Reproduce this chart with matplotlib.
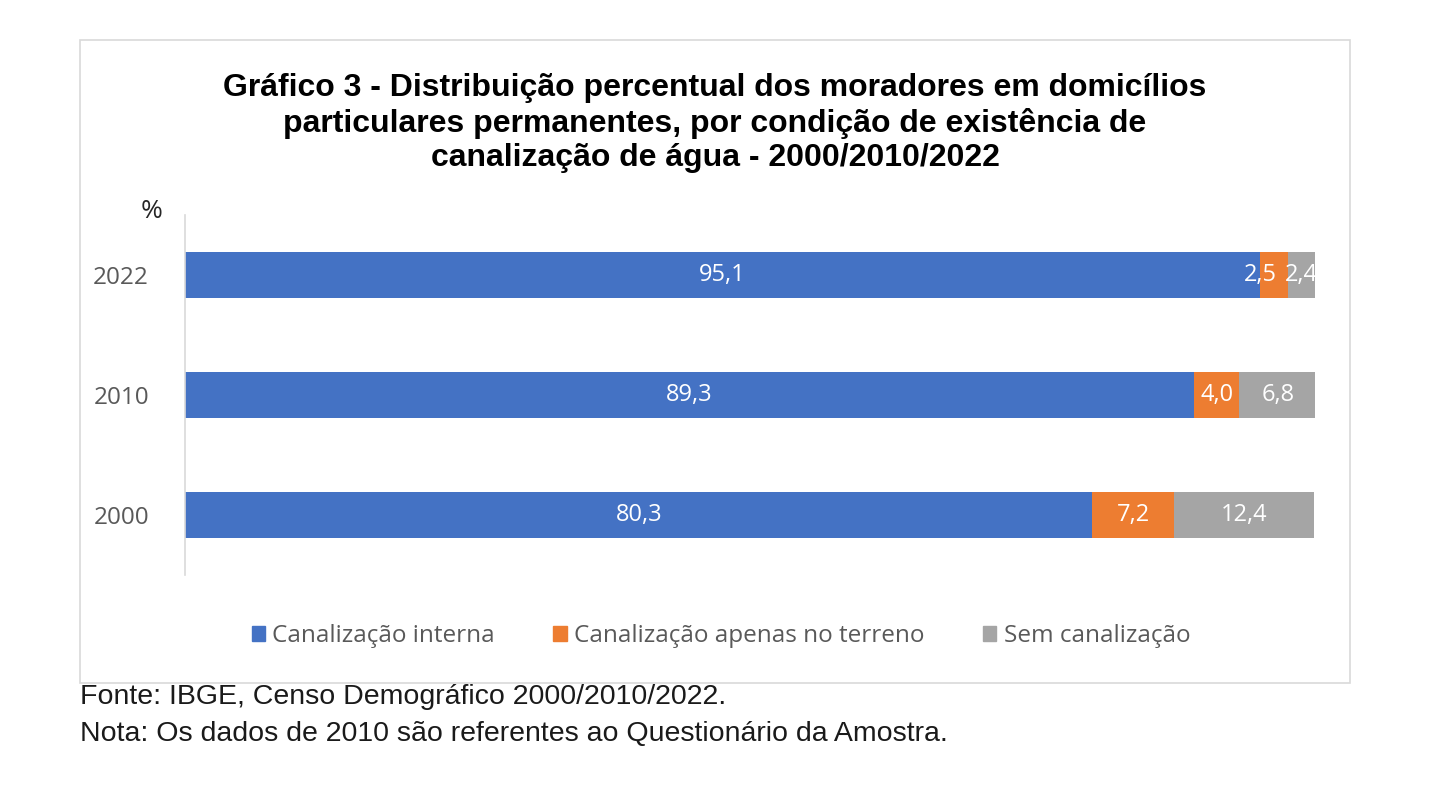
import matplotlib
matplotlib.use("Agg")
import matplotlib.pyplot as plt
from matplotlib.patches import Rectangle, Patch

years = ["2000", "2010", "2022"]
interna = [80.3, 89.3, 95.1]
terreno = [7.2, 4.0, 2.5]
sem = [12.4, 6.8, 2.4]
series_names = ["Canalização interna", "Canalização apenas no terreno", "Sem canalização"]
colors = ["#4472C4", "#ED7D31", "#A5A5A5"]

title = ("Gráfico 3 - Distribuição percentual dos moradores em domicílios\n"
         "particulares permanentes, por condição de existência de\n"
         "canalização de água - 2000/2010/2022")
footer = ["Fonte: IBGE, Censo Demográfico 2000/2010/2022.",
          "Nota: Os dados de 2010 são referentes ao Questionário da Amostra."]

# label nudges (series index, bar index) -> x shift in % units, like the
# manually moved label in the original
nudge = {(1, 2): -1.2}

W, H = 1429, 800
fig = plt.figure(figsize=(W / 100, H / 100), dpi=100)

# outer chart frame
fig.patches.append(Rectangle((80 / W, 1 - 683 / H), 1270 / W, 643 / H,
                             transform=fig.transFigure, fill=False,
                             edgecolor="#D9D9D9", lw=1.2))

ax = fig.add_axes([185 / W, 1 - 575 / H, 1130 / W, 360 / H])
y = list(range(len(years)))
left = [0.0] * len(years)
for si, (vals, name, c) in enumerate(zip([interna, terreno, sem], series_names, colors)):
    ax.barh(y, vals, left=left, height=0.39, color=c, label=name)
    for yi, l, v in zip(y, left, vals):
        ax.text(l + v / 2 + nudge.get((si, yi), 0), yi, f"{v:.1f}".replace(".", ","),
                ha="center", va="center", color="white", fontsize=17,
                family="Open Sans", fontweight="medium", clip_on=True)
    left = [a + b for a, b in zip(left, vals)]

ax.set_xlim(0, 100)
ax.set_ylim(-0.5, 2.5)
ax.set_yticks(y)
ax.set_yticklabels(years, fontsize=17.5, color="#595959", family="Open Sans")
ax.tick_params(axis="y", length=0, pad=26)
ax.set_xticks([])
for s in ["top", "right", "bottom"]:
    ax.spines[s].set_visible(False)
ax.spines["left"].set_color("#D9D9D9")
ax.spines["left"].set_linewidth(1.2)

fig.text(152 / W, 1 - 211 / H, "%", ha="center", va="center", fontsize=19,
         family="Open Sans", color="#262626")
fig.text(715 / W, 1 - 123 / H, title, ha="center", va="center", fontsize=23,
         fontweight="bold", family="Liberation Sans", linespacing=1.2)

handles = [Patch(color=c, label=n) for c, n in zip(colors, series_names)]
leg = fig.legend(handles=handles, loc="center", bbox_to_anchor=(721 / W, 1 - 636 / H),
                 ncol=3, frameon=False, handlelength=0.55, handleheight=0.55,
                 handletextpad=0.3, columnspacing=2.4,
                 prop={"family": "Open Sans", "size": 17.5})
for t in leg.get_texts():
    t.set_color("#595959")

fig.text(80 / W, 1 - 697 / H, footer[0], ha="left", va="center", fontsize=20.5,
         family="Liberation Sans", color="#1a1a1a")
fig.text(80 / W, 1 - 734 / H, footer[1], ha="left", va="center", fontsize=20.5,
         family="Liberation Sans", color="#1a1a1a")

fig.savefig("out.png", dpi=100)
